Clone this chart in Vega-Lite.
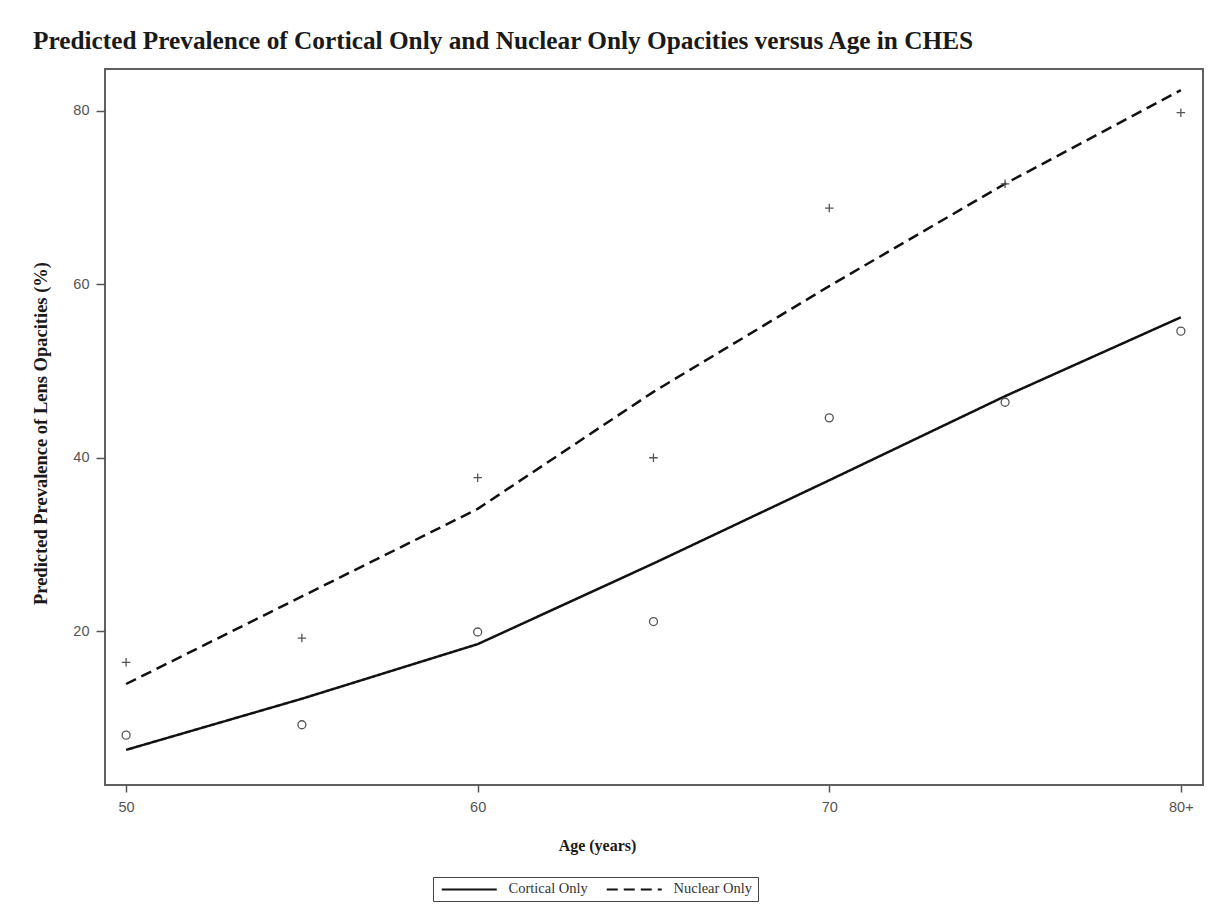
{
  "$schema": "https://vega.github.io/schema/vega-lite/v6.json",
  "width": 1098,
  "height": 716,
  "autosize": {"type": "none"},
  "padding": {"left": 105, "top": 69, "right": 23, "bottom": 134},
  "background": "#ffffff",
  "title": {
    "text": "Predicted Prevalence of Cortical Only and Nuclear Only Opacities versus Age in CHES",
    "font": "Liberation Serif",
    "fontSize": 25.3,
    "fontWeight": "bold",
    "color": "#1a1a1a",
    "anchor": "start",
    "frame": "group",
    "dx": -72,
    "baseline": "alphabetic",
    "offset": -5
  },
  "config": {
    "view": {"stroke": "#606060", "strokeWidth": 2},
    "axis": {
      "grid": false,
      "domain": false,
      "labelFont": "Liberation Sans",
      "labelFontSize": 14.5,
      "labelColor": "#555555",
      "tickColor": "#555555",
      "tickWidth": 1.5,
      "titleFont": "Liberation Serif",
      "titleFontSize": 16,
      "titleFontWeight": "bold",
      "titleColor": "#1a1a1a"
    }
  },
  "data": {
    "values": [
      {"age": 50, "series": "Cortical Only", "predicted": 6.3, "observed": 8.0},
      {"age": 55, "series": "Cortical Only", "predicted": 12.2, "observed": 9.2},
      {"age": 60, "series": "Cortical Only", "predicted": 18.5, "observed": 19.9},
      {"age": 65, "series": "Cortical Only", "predicted": 27.8, "observed": 21.1},
      {"age": 70, "series": "Cortical Only", "predicted": 37.4, "observed": 44.6},
      {"age": 75, "series": "Cortical Only", "predicted": 47.1, "observed": 46.4},
      {"age": 80, "series": "Cortical Only", "predicted": 56.2, "observed": 54.6},
      {"age": 50, "series": "Nuclear Only", "predicted": 13.9, "observed": 16.4},
      {"age": 55, "series": "Nuclear Only", "predicted": 24.0, "observed": 19.2},
      {"age": 60, "series": "Nuclear Only", "predicted": 34.1, "observed": 37.7},
      {"age": 65, "series": "Nuclear Only", "predicted": 47.6, "observed": 40.0},
      {"age": 70, "series": "Nuclear Only", "predicted": 59.8, "observed": 68.8},
      {"age": 75, "series": "Nuclear Only", "predicted": 71.6, "observed": 71.6},
      {"age": 80, "series": "Nuclear Only", "predicted": 82.4, "observed": 79.8}
    ]
  },
  "encoding": {
    "x": {
      "field": "age",
      "type": "quantitative",
      "scale": {"domain": [49.4, 80.63], "nice": false, "zero": false},
      "axis": {
        "title": "Age (years)",
        "values": [50, 60, 70, 80],
        "labelExpr": "datum.value == 80 ? '80+' : datum.label",
        "tickSize": 7,
        "labelPadding": 8,
        "titleX": 492,
        "titleY": 65,
        "titleBaseline": "alphabetic",
        "titleAlign": "center"
      }
    }
  },
  "layer": [
    {
      "mark": {"type": "line", "color": "#111111", "strokeWidth": 2.5},
      "encoding": {
        "y": {
          "field": "predicted",
          "type": "quantitative",
          "scale": {"domain": [2.25, 84.84], "nice": false, "zero": false},
          "axis": {
            "title": "Predicted Prevalence of Lens Opacities (%)",
            "values": [20, 40, 60, 80],
            "tickSize": 9,
            "labelPadding": 7,
            "titleFontSize": 18.5,
            "titleX": -65,
            "titleY": 364,
            "titleBaseline": "middle",
            "titleAlign": "center"
          }
        },
        "strokeDash": {
          "field": "series",
          "type": "nominal",
          "scale": {"domain": ["Cortical Only", "Nuclear Only"], "range": [[1, 0], [11, 6]]},
          "legend": {
            "title": null,
            "orient": "none",
            "legendX": 328,
            "legendY": 808,
            "direction": "horizontal",
            "columns": 2,
            "strokeColor": "#444444",
            "fillColor": "#ffffff",
            "padding": 5,
            "symbolType": "M-5,0L5,0",
            "symbolSize": 121,
            "symbolStrokeWidth": 2,
            "symbolStrokeColor": "#111111",
            "symbolOffset": 24,
            "labelOffset": 32,
            "columnPadding": 14,
            "labelFont": "Liberation Serif",
            "labelFontSize": 14.5,
            "labelColor": "#333333",
            "labelLimit": 300
          }
        }
      }
    },
    {
      "transform": [{"filter": "datum.series == 'Cortical Only'"}],
      "mark": {"type": "point", "shape": "circle", "filled": false, "stroke": "#555555", "strokeWidth": 1.3, "size": 64, "opacity": 1},
      "encoding": {
        "y": {"field": "observed", "type": "quantitative"}
      }
    },
    {
      "transform": [{"filter": "datum.series == 'Nuclear Only'"}],
      "mark": {"type": "point", "shape": "M-1,0L1,0M0,-1L0,1", "filled": false, "stroke": "#555555", "strokeWidth": 1.3, "size": 72, "opacity": 1},
      "encoding": {
        "y": {"field": "observed", "type": "quantitative"}
      }
    }
  ]
}
